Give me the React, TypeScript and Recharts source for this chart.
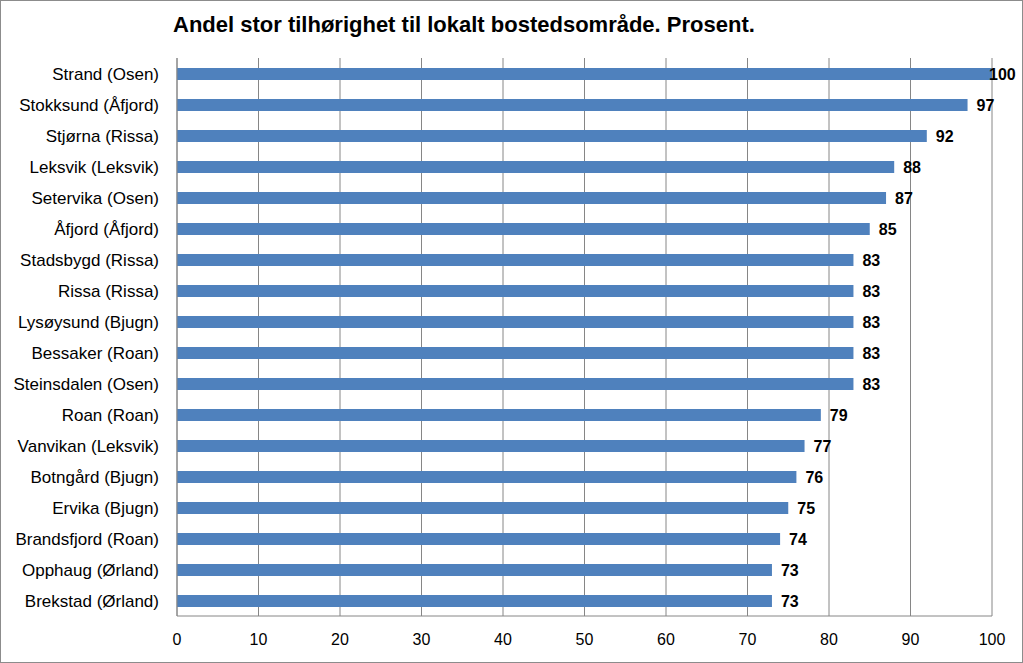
import React from 'react';
import { BarChart, Bar, XAxis, YAxis, CartesianGrid, LabelList } from 'recharts';

const categories = [
  'Strand (Osen)',
  'Stokksund (Åfjord)',
  'Stjørna (Rissa)',
  'Leksvik (Leksvik)',
  'Setervika (Osen)',
  'Åfjord (Åfjord)',
  'Stadsbygd (Rissa)',
  'Rissa (Rissa)',
  'Lysøysund (Bjugn)',
  'Bessaker (Roan)',
  'Steinsdalen (Osen)',
  'Roan (Roan)',
  'Vanvikan (Leksvik)',
  'Botngård (Bjugn)',
  'Ervika (Bjugn)',
  'Brandsfjord (Roan)',
  'Opphaug (Ørland)',
  'Brekstad (Ørland)',
];
const values = [100, 97, 92, 88, 87, 85, 83, 83, 83, 83, 83, 79, 77, 76, 75, 74, 73, 73];
const xTicks = [0, 10, 20, 30, 40, 50, 60, 70, 80, 90, 100];

const title = 'Andel stor tilhørighet til lokalt bostedsområde. Prosent.';

const data = categories.map((name, i) => ({ name, value: values[i] }));

const FONT = '"Liberation Sans", Arial, sans-serif';
const W = 1021;
const H = 661;

// value labels sit right of the bar, pulled back in when they would leave the chart
const ValueLabel = (props: any) => {
  const { x, y, width, height, value } = props;
  const lx = Math.min(x + width + 9, W - 33);
  return (
    <text x={lx} y={y + height / 2} dy="0.36em" fontFamily={FONT} fontSize={16} fontWeight="bold" fill="#000">
      {value}
    </text>
  );
};

export default function App() {
  return (
    <div
      style={{
        position: 'absolute',
        left: 0,
        top: 0,
        width: 1023,
        height: 663,
        boxSizing: 'border-box',
        border: '1px solid #8c8c8c',
        background: '#fff',
        fontFamily: FONT,
      }}
    >
      <div
        style={{
          position: 'absolute',
          left: 172,
          top: 11,
          fontSize: 22,
          fontWeight: 'bold',
          color: '#000',
          whiteSpace: 'nowrap',
        }}
      >
        {title}
      </div>
      <BarChart
        width={W}
        height={H}
        data={data}
        layout="vertical"
        margin={{ top: 57, right: 30, bottom: 0, left: 0 }}
        barCategoryGap={0}
      >
        <CartesianGrid horizontal={false} stroke="#868686" />
        <XAxis
          type="number"
          domain={[0, 100]}
          ticks={xTicks}
          interval={0}
          height={46}
          tickLine={false}
          tickMargin={12}
          axisLine={{ stroke: '#868686' }}
          tick={{ fill: '#000', fontSize: 16, fontFamily: FONT }}
        />
        <YAxis
          type="category"
          dataKey="name"
          width={176}
          interval={0}
          tickLine={false}
          tickMargin={12}
          axisLine={{ stroke: '#868686' }}
          tick={{ fill: '#000', fontSize: 17, fontFamily: FONT }}
        />
        <Bar dataKey="value" fill="#4F81BD" barSize={12} isAnimationActive={false}>
          <LabelList dataKey="value" content={ValueLabel} />
        </Bar>
      </BarChart>
    </div>
  );
}
